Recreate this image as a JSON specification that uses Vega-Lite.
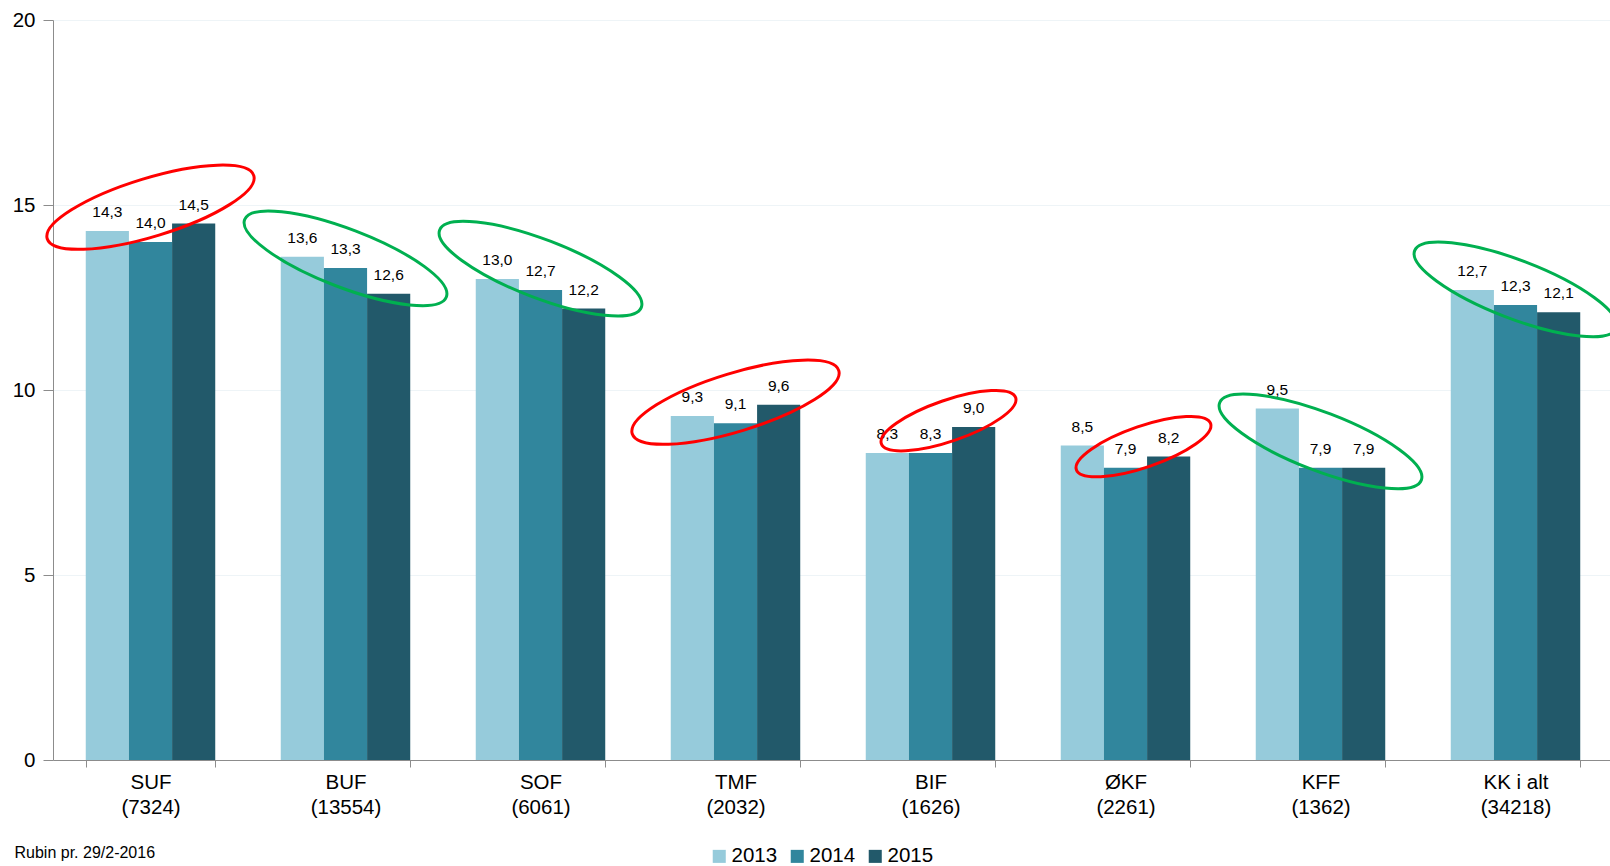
{
  "$schema": "https://vega.github.io/schema/vega-lite/v6.json",
  "width": 1560,
  "height": 740,
  "autosize": {"type": "none"},
  "padding": {"left": 53, "top": 20, "right": 0, "bottom": 106},
  "background": "white",
  "datasets": {
    "bars": [
      {"cat": "SUF|(7324)", "year": "2013", "value": 14.3},
      {"cat": "SUF|(7324)", "year": "2014", "value": 14.0},
      {"cat": "SUF|(7324)", "year": "2015", "value": 14.5},
      {"cat": "BUF|(13554)", "year": "2013", "value": 13.6},
      {"cat": "BUF|(13554)", "year": "2014", "value": 13.3},
      {"cat": "BUF|(13554)", "year": "2015", "value": 12.6},
      {"cat": "SOF|(6061)", "year": "2013", "value": 13.0},
      {"cat": "SOF|(6061)", "year": "2014", "value": 12.7},
      {"cat": "SOF|(6061)", "year": "2015", "value": 12.2},
      {"cat": "TMF|(2032)", "year": "2013", "value": 9.3},
      {"cat": "TMF|(2032)", "year": "2014", "value": 9.1},
      {"cat": "TMF|(2032)", "year": "2015", "value": 9.6},
      {"cat": "BIF|(1626)", "year": "2013", "value": 8.3},
      {"cat": "BIF|(1626)", "year": "2014", "value": 8.3},
      {"cat": "BIF|(1626)", "year": "2015", "value": 9.0},
      {"cat": "ØKF|(2261)", "year": "2013", "value": 8.5},
      {"cat": "ØKF|(2261)", "year": "2014", "value": 7.9},
      {"cat": "ØKF|(2261)", "year": "2015", "value": 8.2},
      {"cat": "KFF|(1362)", "year": "2013", "value": 9.5},
      {"cat": "KFF|(1362)", "year": "2014", "value": 7.9},
      {"cat": "KFF|(1362)", "year": "2015", "value": 7.9},
      {"cat": "KK i alt|(34218)", "year": "2013", "value": 12.7},
      {"cat": "KK i alt|(34218)", "year": "2014", "value": 12.3},
      {"cat": "KK i alt|(34218)", "year": "2015", "value": 12.1}
    ],
    "rings": [
      {"cat": "SUF|(7324)", "trend": "op", "span": "alle", "value": 14.94},
      {"cat": "BUF|(13554)", "trend": "ned", "span": "alle", "value": 13.56},
      {"cat": "SOF|(6061)", "trend": "ned", "span": "alle", "value": 13.28},
      {"cat": "TMF|(2032)", "trend": "op", "span": "alle", "value": 9.67},
      {"cat": "BIF|(1626)", "trend": "op", "span": "to", "value": 9.17},
      {"cat": "ØKF|(2261)", "trend": "op", "span": "to", "value": 8.47},
      {"cat": "KFF|(1362)", "trend": "ned", "span": "alle", "value": 8.61},
      {"cat": "KK i alt|(34218)", "trend": "ned", "span": "alle", "value": 12.72}
    ]
  },
  "encoding": {
    "x": {
      "field": "cat",
      "type": "nominal",
      "sort": null,
      "scale": {
        "domain": ["SUF|(7324)", "BUF|(13554)", "SOF|(6061)", "TMF|(2032)", "BIF|(1626)", "ØKF|(2261)", "KFF|(1362)", "KK i alt|(34218)"],
        "paddingInner": 0.336,
        "paddingOuter": 0.168
      },
      "axis": {
        "title": "Rubin pr. 29/2-2016",
        "titleFontSize": 16,
        "titleFontWeight": "normal",
        "titleFont": "Liberation Sans",
        "titleColor": "black",
        "titleAnchor": "start",
        "titleAlign": "left",
        "titleBaseline": "alphabetic",
        "titleX": -39,
        "titleY": 97,
        "labelAngle": 0,
        "labelExpr": "split(datum.label, '|')",
        "labelFontSize": 20.5,
        "labelFont": "Liberation Sans",
        "labelColor": "black",
        "labelLineHeight": 25,
        "labelBaseline": "top",
        "labelPadding": 5,
        "tickBand": "extent",
        "tickSize": 7,
        "tickColor": "#8c8c8c",
        "domainColor": "#8c8c8c",
        "grid": false
      }
    },
    "y": {
      "field": "value",
      "type": "quantitative",
      "scale": {"domain": [0, 20]},
      "axis": {
        "title": null,
        "values": [0, 5, 10, 15, 20],
        "labelFontSize": 20.5,
        "labelFont": "Liberation Sans",
        "labelColor": "black",
        "tickSize": 10,
        "labelPadding": 8,
        "tickColor": "#8c8c8c",
        "domainColor": "#8c8c8c",
        "gridColor": "#eef4f7"
      }
    }
  },
  "layer": [
    {
      "data": {"name": "bars"},
      "mark": {"type": "bar"},
      "encoding": {
        "xOffset": {"field": "year", "type": "nominal", "scale": {"paddingInner": 0, "paddingOuter": 0}},
        "color": {
          "field": "year",
          "type": "nominal",
          "scale": {"domain": ["2013", "2014", "2015"], "range": ["#96cbdb", "#31869d", "#22596a"]},
          "legend": {
            "title": null,
            "orient": "none",
            "direction": "horizontal",
            "legendX": 656,
            "legendY": 826,
            "symbolType": "square",
            "symbolSize": 170,
            "symbolStrokeWidth": 0,
            "labelFontSize": 20.5,
            "labelFont": "Liberation Sans",
            "labelColor": "black",
            "labelOffset": 2,
            "columnPadding": 9,
            "padding": 0
          }
        }
      }
    },
    {
      "data": {"name": "bars"},
      "mark": {"type": "text", "baseline": "alphabetic", "dy": -14, "fontSize": 15.5, "font": "Liberation Sans", "color": "black"},
      "encoding": {
        "xOffset": {"field": "year", "type": "nominal", "scale": {"paddingInner": 0, "paddingOuter": 0}},
        "text": {"field": "value", "type": "quantitative", "format": ".1f"}
      }
    },
    {
      "data": {"name": "rings"},
      "transform": [{"filter": "datum.span === 'alle' && datum.trend === 'op'"}],
      "mark": {
        "type": "point",
        "shape": "M -1 0 C -1 -0.149 -0.552 -0.27 0 -0.27 C 0.552 -0.27 1 -0.149 1 0 C 1 0.149 0.552 0.27 0 0.27 C -0.552 0.27 -1 0.149 -1 0 Z",
        "filled": false,
        "size": 46656,
        "angle": 343,
        "color": "#ff0000",
        "strokeWidth": 3,
        "opacity": 1
      },
      "encoding": {}
    },
    {
      "data": {"name": "rings"},
      "transform": [{"filter": "datum.trend === 'ned'"}],
      "mark": {
        "type": "point",
        "shape": "M -1 0 C -1 -0.149 -0.552 -0.27 0 -0.27 C 0.552 -0.27 1 -0.149 1 0 C 1 0.149 0.552 0.27 0 0.27 C -0.552 0.27 -1 0.149 -1 0 Z",
        "filled": false,
        "size": 46656,
        "angle": 21,
        "color": "#00b050",
        "strokeWidth": 3,
        "opacity": 1
      },
      "encoding": {}
    },
    {
      "data": {"name": "rings"},
      "transform": [{"filter": "datum.span === 'to'"}],
      "mark": {
        "type": "point",
        "shape": "M -1 0 C -1 -0.16 -0.552 -0.29 0 -0.29 C 0.552 -0.29 1 -0.16 1 0 C 1 0.16 0.552 0.29 0 0.29 C -0.552 0.29 -1 0.16 -1 0 Z",
        "filled": false,
        "size": 20164,
        "angle": 341,
        "xOffset": 18,
        "color": "#ff0000",
        "strokeWidth": 3,
        "opacity": 1
      },
      "encoding": {}
    }
  ],
  "config": {
    "view": {"stroke": null},
    "locale": {
      "number": {"decimal": ",", "thousands": ".", "grouping": [3], "currency": ["", " kr."]}
    }
  }
}
